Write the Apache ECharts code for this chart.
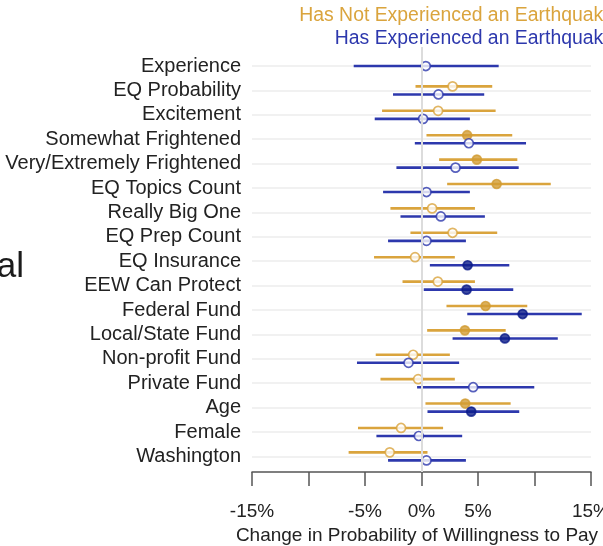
<!DOCTYPE html>
<html>
<head>
<meta charset="utf-8">
<script src="https://cdn.jsdelivr.net/npm/echarts@6/dist/echarts.min.js"></script>
<style>
  html, body { margin: 0; padding: 0; background: #fff; }
  #chart { width: 603px; height: 546px; }
</style>
</head>
<body>
<div id="chart"></div>
<script>
// row labels, top to bottom
const categories = [
  'Experience', 'EQ Probability', 'Excitement', 'Somewhat Frightened',
  'Very/Extremely Frightened', 'EQ Topics Count', 'Really Big One', 'EQ Prep Count',
  'EQ Insurance', 'EEW Can Protect', 'Federal Fund', 'Local/State Fund',
  'Non-profit Fund', 'Private Fund', 'Age', 'Female', 'Washington'
]
const xTicks = [-15, -10, -5, 0, 5, 10, 15]
const xTickLabels = ['-15%', '', '-5%', '0%', '5%', '', '15%']

// Has Not Experienced an Earthquake (percent)
const notExpEst  = [null, 2.75, 1.47, 4.04, 4.9, 6.65, 0.94, 2.75, -0.57, 1.44, 5.67, 3.84, -0.74, -0.3, 3.87, -1.81, -2.81]
const notExpLow  = [null, -0.53, -3.49, 0.44, 1.56, 2.27, -2.75, -0.98, -4.2, -1.68, 2.21, 0.5, -4.05, -3.63, 0.35, -5.62, -6.45]
const notExpHigh = [null, 6.26, 6.56, 8.03, 8.48, 11.44, 4.73, 6.7, 2.95, 4.73, 9.36, 7.45, 2.51, 2.95, 7.89, 1.91, 0.53]
const notExpSig  = [0, 0, 0, 1, 1, 1, 0, 0, 0, 0, 1, 1, 0, 0, 1, 0, 0]

// Has Experienced an Earthquake (percent)
const expEst  = [0.38, 1.5, 0.14, 4.19, 3.01, 0.44, 1.71, 0.44, 4.08, 3.99, 8.95, 7.38, -1.15, 4.57, 4.4, -0.24, 0.44]
const expLow  = [-6.0, -2.52, -4.14, -0.59, -2.22, -3.4, -1.86, -2.96, 0.74, 0.2, 4.05, 2.75, -5.71, -0.39, 0.53, -3.99, -2.96]
const expHigh = [6.83, 5.55, 4.28, 9.25, 8.6, 4.28, 5.61, 3.93, 7.77, 8.12, 14.18, 12.06, 3.33, 9.98, 8.65, 3.6, 3.93]
const expSig  = [0, 0, 0, 0, 0, 0, 0, 0, 1, 1, 1, 1, 0, 0, 1, 0, 0]

const GOLD = '#daa43d'
const GOLD_DOT = '#d29c33'
const BLUE = '#2d38ad'
const BLUE_DOT = '#0b1c8a'
const rows = categories.map((c, i) => i)

// vertical shift inside a row when both groups are present
const rowShift = (i, dir) => (notExpEst[i] == null || expEst[i] == null) ? 0 : dir * 0.165

const ciData = (est, low, high, dir) => rows
  .filter(i => est[i] != null)
  .map(i => [low[i], high[i], i + rowShift(i, dir)])

const dotData = (est, sig, dir, line, fill) => rows
  .filter(i => est[i] != null)
  .map(i => ({
    value: [est[i], i + rowShift(i, dir)],
    itemStyle: { color: sig[i] ? fill : '#ffffff', borderColor: sig[i] ? fill : line, borderWidth: 1.7 }
  }))

const renderCI = (params, api) => {
  const y = api.value(2)
  const a = api.coord([api.value(0), y])
  const b = api.coord([api.value(1), y])
  return {
    type: 'line',
    shape: { x1: a[0], y1: a[1], x2: b[0], y2: b[1] },
    style: { stroke: api.visual('color'), lineWidth: 2.6 }
  }
}

const chart = echarts.init(document.getElementById('chart'))
chart.setOption({
  animation: false,
  grid: { left: 252, right: 12, top: 47, bottom: 74, outerBoundsMode: 'none', containLabel: false },
  xAxis: {
    type: 'value', min: -15, max: 15, interval: 5, position: 'bottom',
    axisLine: { show: true, onZero: false, lineStyle: { color: '#555', width: 1.5 } },
    axisTick: { show: true, length: 14, lineStyle: { color: '#555', width: 1.5 } },
    axisLabel: {
      margin: 30, fontSize: 19, color: '#222', fontFamily: 'Liberation Sans',
      showMinLabel: true, showMaxLabel: true, hideOverlap: false,
      formatter: v => xTickLabels[xTicks.indexOf(v)]
    },
    splitLine: { show: false },
    name: 'Change in Probability of Willingness to Pay',
    nameLocation: 'middle', nameGap: 53,
    nameTextStyle: { fontSize: 19, color: '#222', fontFamily: 'Liberation Sans', padding: [0, 9, 0, 0] }
  },
  yAxis: {
    type: 'value', inverse: true, min: -0.78, max: 16.64,
    axisLine: { show: false },
    axisTick: { show: false, customValues: rows },
    axisLabel: {
      customValues: rows, margin: 11, fontSize: 20, color: '#222',
      fontFamily: 'Liberation Sans', formatter: v => categories[v]
    },
    splitLine: { show: true, lineStyle: { color: '#ececec', width: 1.5 } }
  },
  graphic: [
    { type: 'text', x: 614, y: 16, style: { text: 'Has Not Experienced an Earthquake', fill: GOLD, font: '19.4px "Liberation Sans"', textAlign: 'right', textVerticalAlign: 'middle' } },
    { type: 'text', x: 614, y: 39, style: { text: 'Has Experienced an Earthquake', fill: BLUE, font: '19.4px "Liberation Sans"', textAlign: 'right', textVerticalAlign: 'middle' } },
    { type: 'text', x: 24, y: 285, style: { text: 'al', fill: '#1b1b1b', font: '35px "Liberation Sans"', textAlign: 'right', textVerticalAlign: 'bottom' } }
  ],
  series: [
    {
      type: 'scatter', data: [], z: 1, silent: true,
      markLine: {
        silent: true, symbol: 'none', label: { show: false },
        lineStyle: { color: '#dcdcdc', width: 2, type: 'solid' },
        data: [{ xAxis: 0 }]
      }
    },
    {
      name: 'Has Not Experienced an Earthquake', type: 'custom', z: 2,
      renderItem: renderCI, itemStyle: { color: GOLD },
      encode: { x: [0, 1], y: 2 },
      data: ciData(notExpEst, notExpLow, notExpHigh, -1)
    },
    {
      name: 'Has Experienced an Earthquake', type: 'custom', z: 2,
      renderItem: renderCI, itemStyle: { color: BLUE },
      encode: { x: [0, 1], y: 2 },
      data: ciData(expEst, expLow, expHigh, 1)
    },
    {
      type: 'scatter', z: 3, symbolSize: 9,
      data: dotData(notExpEst, notExpSig, -1, GOLD, GOLD_DOT)
    },
    {
      type: 'scatter', z: 3, symbolSize: 9,
      data: dotData(expEst, expSig, 1, BLUE, BLUE_DOT)
    }
  ]
})
</script>
</body>
</html>
